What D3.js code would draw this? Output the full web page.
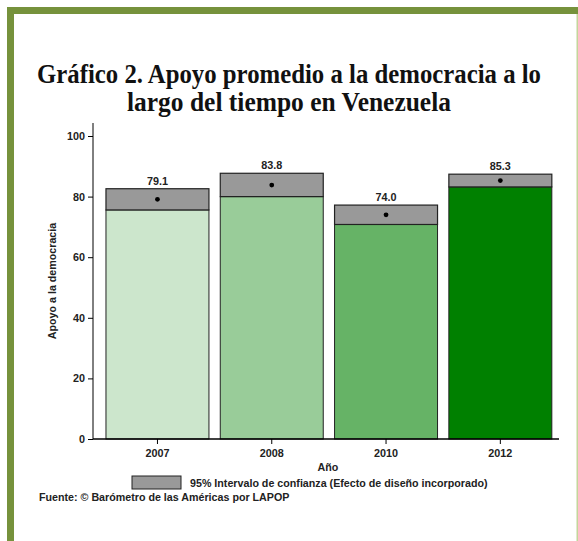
<!DOCTYPE html>
<html><head><meta charset="utf-8">
<script src="https://cdn.jsdelivr.net/npm/d3@7"></script>
<style>body{margin:0;background:#fff}</style>
</head><body>
<svg id="c" width="578" height="541"></svg>
<script>
const years = ["2007","2008","2010","2012"];
const means = [79.1, 83.8, 74.0, 85.3];
const ciLow = [75.6, 80.0, 70.8, 83.2];
const ciHigh = [82.6, 87.7, 77.2, 87.4];
const barColors = ["#cce6cc","#99cc99","#66b366","#008000"];
const yTicks = [0,20,40,60,80,100];

const svg = d3.select("#c");
// page frame
svg.append("rect").attr("x",7).attr("y",7).attr("width",7).attr("height",534).attr("fill","#76923c");
svg.append("rect").attr("x",7).attr("y",7).attr("width",571).attr("height",7).attr("fill","#76923c");
svg.append("rect").attr("x",576.5).attr("y",14).attr("width",1.5).attr("height",527).attr("fill","#c3d69b");

// title
svg.append("text").attr("x",289).attr("y",83).attr("text-anchor","middle")
  .attr("font-family","Liberation Serif").attr("font-weight","bold").attr("font-size",26.5)
  .attr("textLength",504).attr("lengthAdjust","spacingAndGlyphs").attr("fill","#111")
  .text("Gráfico 2. Apoyo promedio a la democracia a lo");
svg.append("text").attr("x",289).attr("y",111).attr("text-anchor","middle")
  .attr("font-family","Liberation Serif").attr("font-weight","bold").attr("font-size",26.5)
  .attr("textLength",324).attr("lengthAdjust","spacingAndGlyphs").attr("fill","#111")
  .text("largo del tiempo en Venezuela");

const x = d3.scaleBand().domain(years).range([93.4,564.4]).paddingInner(0.099).paddingOuter(0.11);
const y = d3.scaleLinear().domain([0,100]).range([439,136]);
const font = "Liberation Sans";
const fs = 10.8;
const fs2 = 10.7;

const g = svg.append("g");
years.forEach((yr,i)=>{
  const x0 = x(yr), w = x.bandwidth();
  g.append("rect").attr("x",x0).attr("y",y(ciLow[i])).attr("width",w).attr("height",y(0)-y(ciLow[i]))
    .attr("fill",barColors[i]).attr("stroke","#222").attr("stroke-width",1);
  g.append("rect").attr("x",x0).attr("y",y(ciHigh[i])).attr("width",w).attr("height",y(ciLow[i])-y(ciHigh[i]))
    .attr("fill","#999999").attr("stroke","#222").attr("stroke-width",1.2);
  g.append("circle").attr("cx",x0+w/2).attr("cy",y(means[i])).attr("r",2.4).attr("fill","#000");
  g.append("text").attr("x",x0+w/2).attr("y",y(ciHigh[i])-4).attr("text-anchor","middle")
    .attr("font-family",font).attr("font-weight","bold").attr("font-size",fs).attr("fill","#222")
    .text(means[i].toFixed(1));
});

// axes
const yAxis = d3.axisLeft(y).tickValues(yTicks).tickSize(5).tickPadding(3);
const ya = svg.append("g").attr("transform","translate(93,0)").call(yAxis);
ya.select(".domain").attr("d","M0,439V123").attr("stroke","#000");
ya.selectAll("text").attr("font-family",font).attr("font-weight","bold").attr("font-size",fs).attr("fill","#222");
const xAxis = d3.axisBottom(x).tickSize(5).tickPadding(5);
const xa = svg.append("g").attr("transform","translate(0,439)").call(xAxis);
xa.select(".domain").attr("d","M93,0H559").attr("stroke","#000").attr("stroke-width",1.3);
xa.selectAll("text").attr("font-family",font).attr("font-weight","bold").attr("font-size",fs).attr("fill","#222");

svg.append("text").attr("transform","translate(56,281) rotate(-90)").attr("text-anchor","middle")
  .attr("font-family",font).attr("font-weight","bold").attr("font-size",fs2).attr("fill","#222")
  .text("Apoyo a la democracia");
svg.append("text").attr("x",328).attr("y",471).attr("text-anchor","middle")
  .attr("font-family",font).attr("font-weight","bold").attr("font-size",fs2).attr("fill","#222").text("Año");

// legend
svg.append("rect").attr("x",132).attr("y",476).attr("width",49).attr("height",13)
  .attr("fill","#999999").attr("stroke","#222").attr("stroke-width",1);
svg.append("text").attr("x",190).attr("y",487)
  .attr("font-family",font).attr("font-weight","bold").attr("font-size",fs2).attr("fill","#222")
  .text("95% Intervalo de confianza (Efecto de diseño incorporado)");
svg.append("text").attr("x",39).attr("y",501)
  .attr("font-family",font).attr("font-weight","bold").attr("font-size",fs2).attr("fill","#222")
  .text("Fuente: © Barómetro de las Américas por LAPOP");
</script>
</body></html>
